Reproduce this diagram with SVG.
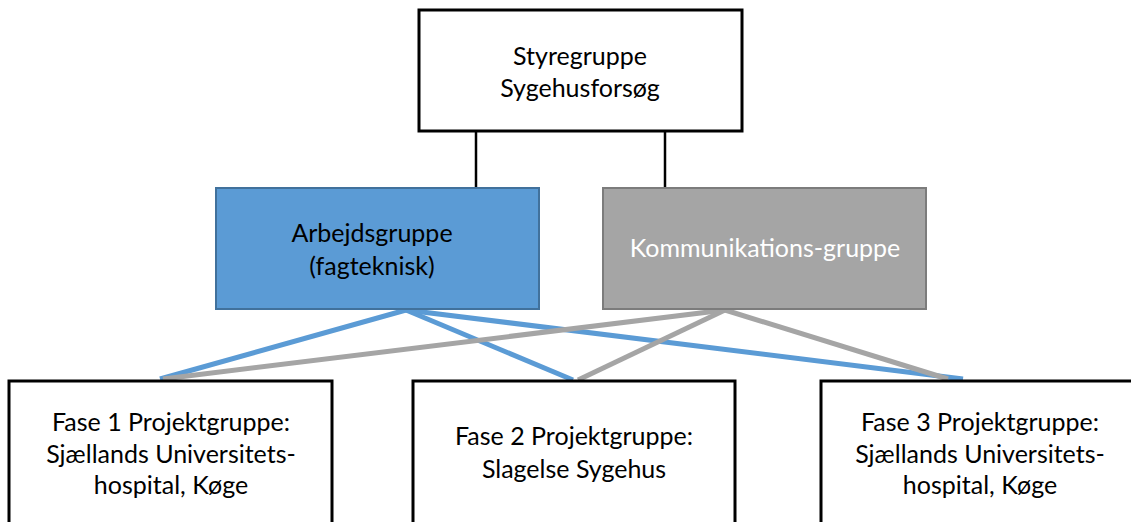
<svg xmlns="http://www.w3.org/2000/svg" width="1131" height="522" viewBox="0 0 1131 522">
  <style>
    .box { fill: #ffffff; stroke: #000000; stroke-width: 3; }
    .blue { fill: #5B9BD5; stroke: #41719C; stroke-width: 2; }
    .gray { fill: #A5A5A5; stroke: #7C7C7C; stroke-width: 2; }
    text { font-family: Lato, "Open Sans", "Liberation Sans", sans-serif; font-size: 25px; text-anchor: middle; fill: #000000; }
    .white { fill: #ffffff; }
    .k { stroke: #000000; stroke-width: 2.5; fill: none; }
    .cb { stroke: #5B9BD5; stroke-width: 5; fill: none; }
    .cg { stroke: #A5A5A5; stroke-width: 5; fill: none; }
  </style>
  <rect width="1131" height="522" fill="#ffffff"/>
  <g id="connectors">
    <line class="k" x1="476" y1="131" x2="476" y2="188"/>
    <line class="k" x1="665" y1="131" x2="665" y2="188"/>
    <line class="cb" x1="406" y1="310" x2="160" y2="379"/>
    <line class="cb" x1="406" y1="310" x2="573" y2="380"/>
    <line class="cb" x1="406" y1="310" x2="963" y2="379"/>
    <line class="cg" x1="725" y1="310" x2="163" y2="379"/>
    <line class="cg" x1="725" y1="310" x2="578" y2="380"/>
    <line class="cg" x1="725" y1="310" x2="948" y2="379"/>
  </g>
  <g id="styregruppe">
    <rect class="box" x="419" y="10" width="323" height="121"/>
    <text x="580" y="65">Styregruppe</text>
    <text x="580" y="97">Sygehusforsøg</text>
  </g>
  <g id="arbejdsgruppe">
    <rect class="blue" x="216" y="188" width="323" height="121"/>
    <text x="372" y="242">Arbejdsgruppe</text>
    <text x="372" y="275">(fagteknisk)</text>
  </g>
  <g id="kommunikationsgruppe">
    <rect class="gray" x="603" y="188" width="323" height="121"/>
    <text class="white" x="765" y="257">Kommunikations-gruppe</text>
  </g>
  <g id="fase1">
    <rect class="box" x="9" y="381" width="323" height="150"/>
    <text x="171" y="431">Fase 1 Projektgruppe:</text>
    <text x="171" y="463">Sjællands Universitets-</text>
    <text x="171" y="494">hospital, Køge</text>
  </g>
  <g id="fase2">
    <rect class="box" x="413" y="381" width="322" height="150"/>
    <text x="574" y="445">Fase 2 Projektgruppe:</text>
    <text x="574" y="478">Slagelse Sygehus</text>
  </g>
  <g id="fase3">
    <rect class="box" x="821" y="381" width="323" height="150"/>
    <text x="980" y="431">Fase 3 Projektgruppe:</text>
    <text x="980" y="463">Sjællands Universitets-</text>
    <text x="980" y="494">hospital, Køge</text>
  </g>
</svg>
